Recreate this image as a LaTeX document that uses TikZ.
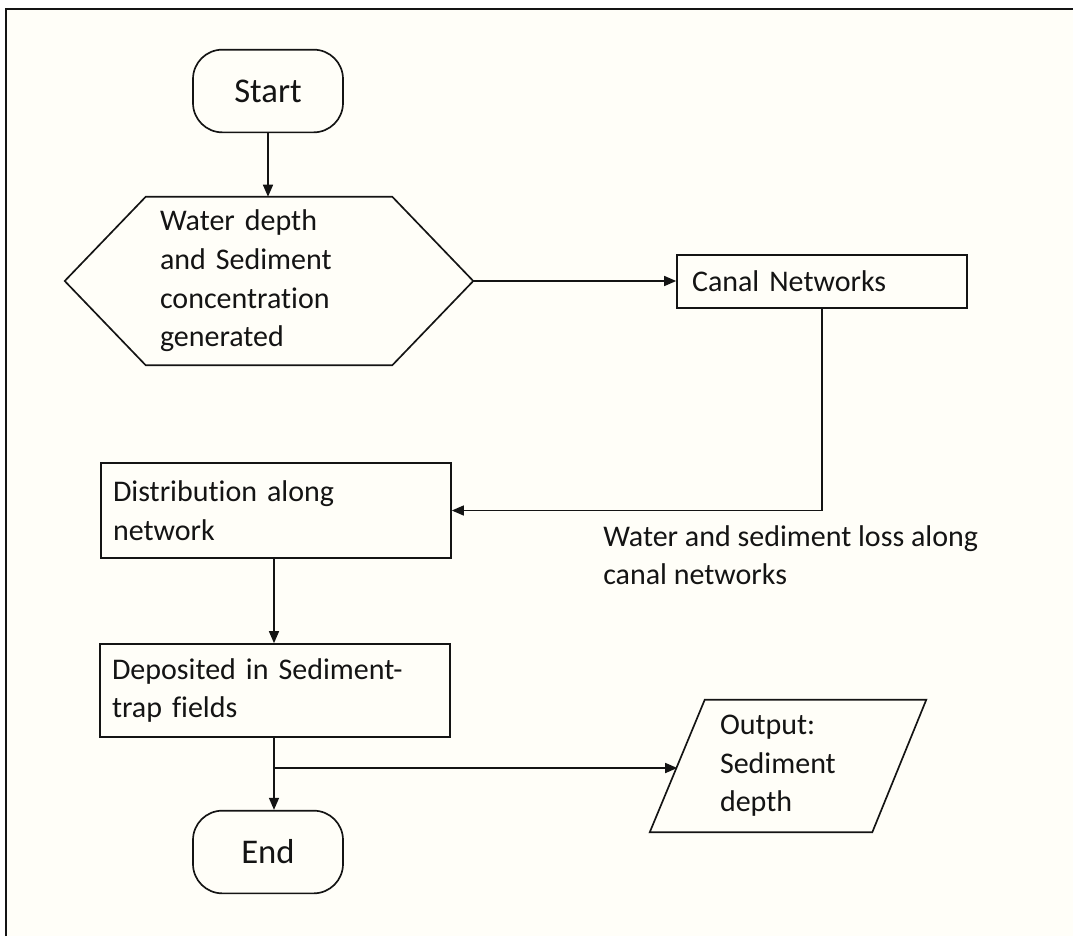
\documentclass[tikz,border=0pt]{standalone}
\usepackage{fontspec}
\setmainfont{Carlito}[Ligatures=NoCommon]
\usetikzlibrary{arrows.meta,calc}
\definecolor{paper}{RGB}{255,254,248}
\definecolor{ink}{RGB}{20,20,20}
\tikzset{
  every node/.style={font=\fontsize{22.5}{29}\selectfont, text=ink},
  outline/.style={draw=ink, line width=1.25pt},
  box/.style={outline, rectangle, align=left, inner sep=0pt},
  terminal/.style={outline, rectangle, rounded corners=22pt, minimum width=112.5pt, minimum height=62pt, font=\fontsize{26}{31}\selectfont},
  ghost/.style={rectangle, draw=none, align=left, inner sep=0pt},
  conn/.style={draw=ink, line width=1.1pt, -{Triangle[length=9pt,width=7.5pt]}},
  plain/.style={draw=ink, line width=1pt}
}
\begin{document}
\begin{tikzpicture}[x=0.75pt, y=-0.75pt]
\useasboundingbox (0,0) rectangle (1073,936);
\fill[white] (0,0) rectangle (1073,936);
\fill[paper] (6,9) rectangle (1073,936);
\draw[ink, line width=1.6pt] (6,936) -- (6,9) -- (1073,9);

% nodes
\node[terminal] (start) at (268,91) {Start};
\node[ghost, minimum width=306pt, minimum height=126pt, text width=163.5pt] (hex) at (269,281) {Water depth\\and Sediment\\concentration\\generated};
\draw[outline] (hex.west) -- ($(hex.north west)+(81,0)$) -- ($(hex.north east)+(-81,0)$) -- (hex.east) -- ($(hex.south east)+(-81,0)$) -- ($(hex.south west)+(81,0)$) -- cycle;
\node[box, minimum width=217.5pt, minimum height=39.75pt, text width=195pt] (canal) at (822,281.5) {Canal Networks};
\node[box, minimum width=262.5pt, minimum height=71.25pt, text width=244.5pt] (dist) at (276,510.5) {Distribution along\\network};
\node[ghost, anchor=north west] (loss) at (603,525) {Water and sediment loss along\\canal networks};
\node[box, minimum width=262.5pt, minimum height=69.75pt, text width=244.5pt] (dep) at (275,690.5) {Deposited in Sediment-\\trap fields};
\node[terminal] (end) at (268,852) {End};
\node[ghost, minimum width=207pt, minimum height=99pt, text width=102pt] (out) at (788,766) {Output:\\Sediment\\depth};
\draw[outline] (out.south west) -- ($(out.north west)+(55,0)$) -- (out.north east) -- ($(out.south east)+(-54,0)$) -- cycle;

\coordinate (br) at (274,768);
\coordinate (outin) at ($(out.south west)!0.5!(out.north west)+(27.5,0)$);

% connectors
\draw[conn] (start.south) -- (start.south |- hex.north);
\draw[conn] (hex.east) -- (hex.east -| canal.west);
\draw[conn] (canal.south) |- (dist.east);
\draw[conn] (dist.south -| br) -- (dep.north -| br);
\draw[conn] (dep.south -| br) -- (end.north -| br);
\draw[conn] (br) -- (br -| outin);
\end{tikzpicture}
\end{document}
